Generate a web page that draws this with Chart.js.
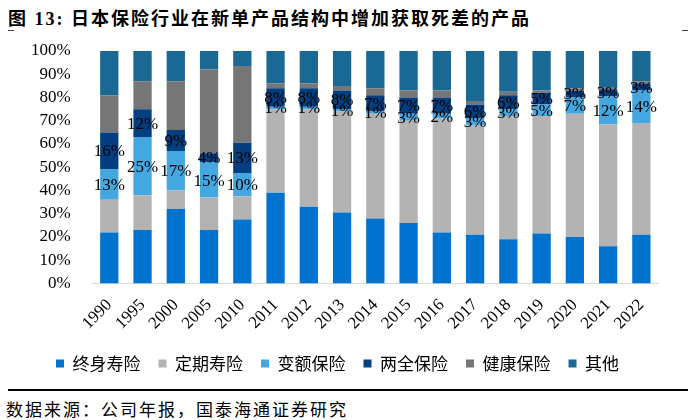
<!DOCTYPE html>
<html>
<head>
<meta charset="utf-8">
<script src="https://cdn.jsdelivr.net/npm/chart.js@4"></script>
<style>
  body { margin: 0; width: 695px; height: 420px; background: #fff; position: relative; overflow: hidden; }
  #title { position: absolute; left: 8px; top: 4px; font: bold 18px "Liberation Serif", "Noto Sans CJK SC"; letter-spacing: 2px; color: #000; white-space: nowrap; }
  .mark { position: absolute; top: 30px; width: 6px; height: 1px; background: #444; }
  #box { position: absolute; left: 0; top: 0; width: 695px; height: 386px; }
  #rule { position: absolute; left: 8px; top: 389px; width: 680px; height: 2px; background: #000; }
  #source { position: absolute; left: 6px; top: 396px; font: 17px "Liberation Serif", "Noto Sans CJK SC"; letter-spacing: 2px; color: #000; white-space: nowrap; }
</style>
</head>
<body>
<div id="title">图 13: 日本保险行业在新单产品结构中增加获取死差的产品</div>
<div class="mark" style="left:8px"></div>
<div class="mark" style="left:682px"></div>
<div id="box"><canvas id="myChart"></canvas></div>
<div id="rule"></div>
<div id="source">数据来源：公司年报，国泰海通证券研究</div>
<script>
const years = ['1990', '1995', '2000', '2005', '2010', '2011', '2012', '2013', '2014', '2015', '2016', '2017', '2018', '2019', '2020', '2021', '2022'];
const wholeLife = [22, 23, 32, 23, 27.5, 39, 33, 30.5, 28, 26, 22, 21, 19, 21.5, 20, 16, 21];
const termLife  = [14, 15, 8, 14, 10, 36, 42, 43.5, 45, 44, 49, 47, 53, 50.5, 53, 52.5, 48];
const variable  = [13, 25, 17, 15, 10, 1, 1, 1, 1, 3, 2, 3, 3, 5, 7, 12, 14];
const endowment = [16, 12, 9, 4, 13, 8, 8, 8, 7, 7, 7, 6, 6, 5, 3, 3, 3];
const health    = [16, 12, 21, 36, 33, 2, 2, 2, 3, 3, 3, 1.5, 1.5, 1, 1, 1, 1];
const other     = [19, 13, 13, 8, 6.5, 14, 14, 15, 16, 17, 17, 21.5, 17.5, 17, 16, 15.5, 13];
const yTicks = [0, 10, 20, 30, 40, 50, 60, 70, 80, 90, 100];

const serif = 'Liberation Serif';

// value labels only on 变额保险 and 两全保险
const barLabels = {
    id: 'barLabels',
    afterDatasetsDraw(chart) {
        const c = chart.ctx;
        c.save();
        c.font = '17px "' + serif + '"';
        c.fillStyle = '#000';
        c.textAlign = 'center';
        c.textBaseline = 'middle';
        [2, 3].forEach(i => {
            const meta = chart.getDatasetMeta(i);
            meta.data.forEach((bar, j) => {
                const v = chart.data.datasets[i].data[j];
                c.fillText(Math.round(v) + '%', bar.x, (bar.y + bar.base) / 2 + 1);
            });
        });
        c.restore();
    }
};

const ctx = document.getElementById('myChart');

new Chart(ctx, {
    type: 'bar',
    data: {
        labels: years,
        datasets: [
            { label: '终身寿险', data: wholeLife, backgroundColor: '#0073CF' },
            { label: '定期寿险', data: termLife, backgroundColor: '#B3B3B3' },
            { label: '变额保险', data: variable, backgroundColor: '#45A7E0' },
            { label: '两全保险', data: endowment, backgroundColor: '#033F80' },
            { label: '健康保险', data: health, backgroundColor: '#767676' },
            { label: '其他', data: other, backgroundColor: '#1A6894' }
        ]
    },
    options: {
        responsive: true,
        maintainAspectRatio: false,
        animation: false,
        datasets: { bar: { barPercentage: 0.55, categoryPercentage: 1 } },
        layout: { padding: { top: 51, left: 17, right: 37, bottom: 4 } },
        plugins: {
            legend: {
                position: 'bottom',
                labels: {
                    boxWidth: 8,
                    boxHeight: 8,
                    padding: 18,
                    color: '#000',
                    font: { family: 'Noto Sans CJK SC', size: 17 }
                }
            },
            tooltip: { enabled: false }
        },
        scales: {
            x: {
                stacked: true,
                grid: { display: false },
                border: { color: '#D9D9D9' },
                ticks: { autoSkip: false, minRotation: 45, maxRotation: 45, padding: 3.5, color: '#000', font: { family: serif, size: 17 } }
            },
            y: {
                stacked: true,
                min: 0,
                max: 100,
                grid: { display: false },
                border: { display: false },
                afterBuildTicks: axis => { axis.ticks = yTicks.map(v => ({ value: v })); },
                ticks: { autoSkip: false, padding: 14, color: '#000', font: { family: serif, size: 17 }, callback: v => v + '%' }
            }
        }
    },
    plugins: [barLabels]
});
</script>
</body>
</html>
